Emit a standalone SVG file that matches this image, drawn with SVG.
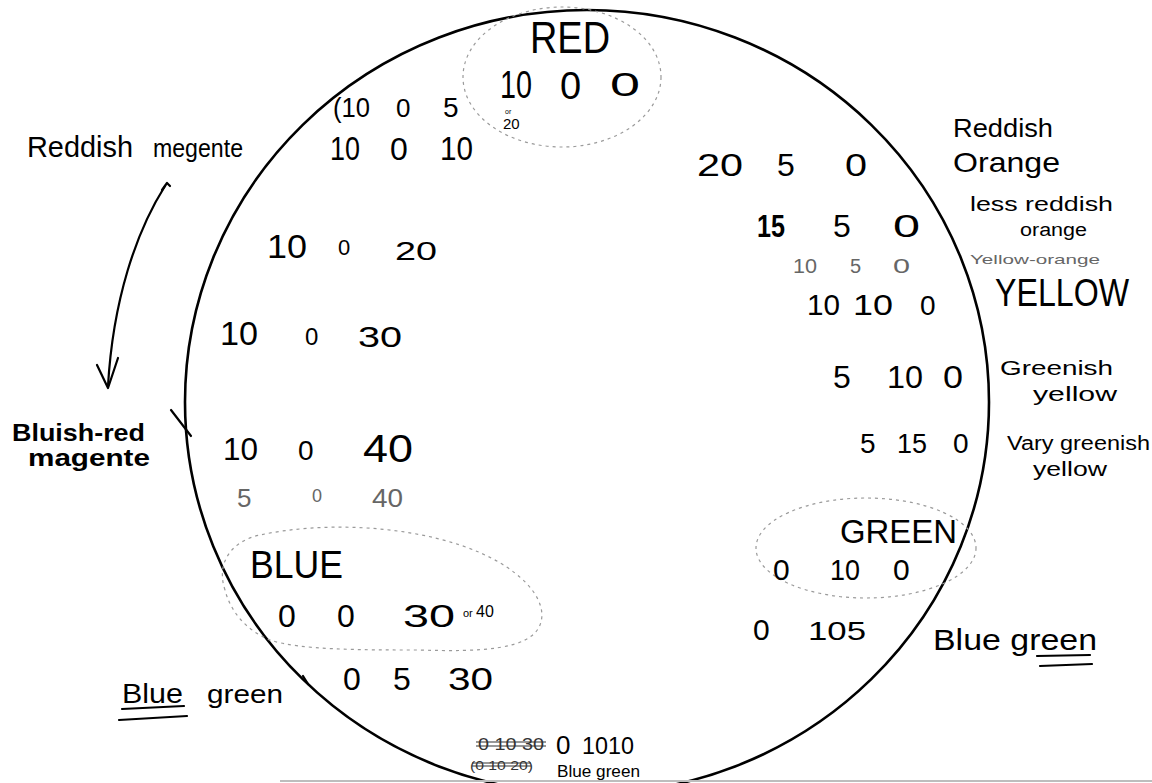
<svg xmlns="http://www.w3.org/2000/svg" width="1152" height="783" viewBox="0 0 1152 783">
<style>
text { font-family: "Liberation Sans", Arial, sans-serif; fill: #000; }
.thin { fill: #666; }
.strike { fill: #333; }
.outline { fill: none; stroke: #9a9a9a; stroke-width: 1.2; stroke-dasharray: 3 4; }
.ink { fill: none; stroke: #000; stroke-width: 2.2; stroke-linecap: round; stroke-linejoin: round; }
</style>
<rect width="1152" height="783" fill="#fff"/>
<g id="wheel">
<ellipse cx="587" cy="402" rx="402" ry="392" fill="none" stroke="#000" stroke-width="2.6"/>
<line x1="280" y1="781" x2="1152" y2="781" stroke="#bdbdbd" stroke-width="2"/>
</g>
<g id="connectors">
<path class="ink" d="M165,186 C136,232 113,300 108,386"/>
<path class="ink" d="M97,365 L108,388 L118,358"/>
<path class="ink" d="M162,190 L167,183 L170,186"/>
<path class="ink" d="M171,410 L191,436"/>
<path class="ink" d="M303,676 L308,684"/>
</g>
<g id="red">
<ellipse class="outline" cx="562" cy="77" rx="99" ry="70"/>
<text x="530" y="53" font-size="44" textLength="80" lengthAdjust="spacingAndGlyphs">RED</text>
<text x="500" y="98" font-size="38" textLength="32" lengthAdjust="spacingAndGlyphs">10</text>
<text x="560" y="99" font-size="38">0</text>
<text x="610" y="96" font-size="34" textLength="30" lengthAdjust="spacingAndGlyphs">0</text>
<text x="505" y="114" font-size="7">or</text>
<text x="503" y="129" font-size="15">20</text>
</g>
<g id="row-10-0-5">
<text x="333" y="117" font-size="28" textLength="37" lengthAdjust="spacingAndGlyphs">(10</text>
<text x="396" y="117" font-size="26">0</text>
<text x="443" y="117" font-size="28">5</text>
</g>
<g id="reddish-magenta">
<text x="27" y="157" font-size="30" textLength="106" lengthAdjust="spacingAndGlyphs">Reddish</text>
<text x="153" y="157" font-size="26" textLength="90" lengthAdjust="spacingAndGlyphs">megente</text>
<text x="330" y="160" font-size="34" textLength="30" lengthAdjust="spacingAndGlyphs">10</text>
<text x="390" y="160" font-size="32">0</text>
<text x="440" y="160" font-size="34" textLength="33" lengthAdjust="spacingAndGlyphs">10</text>
</g>
<g id="row-10-0-20">
<text x="267" y="258" font-size="34" textLength="40" lengthAdjust="spacingAndGlyphs">10</text>
<text x="338" y="255" font-size="22">0</text>
<text x="395" y="260" font-size="26" textLength="42" lengthAdjust="spacingAndGlyphs">20</text>
</g>
<g id="row-10-0-30">
<text x="220" y="345" font-size="34" textLength="38" lengthAdjust="spacingAndGlyphs">10</text>
<text x="305" y="345" font-size="24">0</text>
<text x="358" y="347" font-size="30" textLength="44" lengthAdjust="spacingAndGlyphs">30</text>
</g>
<g id="bluish-red-magenta">
<text x="12" y="441" font-size="24" font-weight="bold" textLength="133" lengthAdjust="spacingAndGlyphs">Bluish-red</text>
<text x="28" y="466" font-size="24" font-weight="bold" textLength="122" lengthAdjust="spacingAndGlyphs">magente</text>
<text x="223" y="460" font-size="32" textLength="35" lengthAdjust="spacingAndGlyphs">10</text>
<text x="298" y="460" font-size="28">0</text>
<text x="363" y="462" font-size="38" textLength="50" lengthAdjust="spacingAndGlyphs">40</text>
<text class="thin" x="237" y="507" font-size="26">5</text>
<text class="thin" x="312" y="502" font-size="18">0</text>
<text class="thin" x="372" y="507" font-size="26" textLength="31" lengthAdjust="spacingAndGlyphs">40</text>
</g>
<g id="blue">
<path class="outline" d="M225,590 C215,560 235,540 260,535 C320,522 400,525 460,545 C520,565 550,600 540,625 C530,650 480,652 420,650 C360,650 300,650 270,640 C245,630 230,610 225,590 Z"/>
<text x="250" y="578" font-size="38" textLength="93" lengthAdjust="spacingAndGlyphs">BLUE</text>
<text x="278" y="627" font-size="32">0</text>
<text x="337" y="627" font-size="32">0</text>
<text x="403" y="627" font-size="32" textLength="52" lengthAdjust="spacingAndGlyphs">30</text>
<text x="463" y="617" font-size="11">or</text>
<text x="476" y="617" font-size="16">40</text>
</g>
<g id="blue-green-left">
<text x="122" y="703" font-size="28" textLength="61" lengthAdjust="spacingAndGlyphs">Blue</text>
<text x="207" y="703" font-size="26" textLength="76" lengthAdjust="spacingAndGlyphs">green</text>
<path class="ink" d="M122,709 L184,706 M119,720 L187,716"/>
<text x="343" y="690" font-size="32">0</text>
<text x="393" y="690" font-size="32">5</text>
<text x="448" y="690" font-size="32" textLength="45" lengthAdjust="spacingAndGlyphs">30</text>
</g>
<g id="blue-green-bottom">
<text class="strike" x="478" y="750" font-size="17" textLength="66" lengthAdjust="spacingAndGlyphs">0 10 30</text>
<path d="M476,742 L546,742 M476,746 L546,746" stroke="#333" stroke-width="1.2" fill="none"/>
<text class="strike" x="470" y="770" font-size="12" textLength="63" lengthAdjust="spacingAndGlyphs">(0 10 20)</text>
<path d="M472,763 L531,763 M472,766 L531,766" stroke="#333" stroke-width="1.2" fill="none"/>
<text x="556" y="754" font-size="26">0</text>
<text x="582" y="754" font-size="24" textLength="52" lengthAdjust="spacingAndGlyphs">1010</text>
<text x="557" y="777" font-size="16" textLength="83" lengthAdjust="spacingAndGlyphs">Blue green</text>
</g>
<g id="reddish-orange">
<text x="953" y="137" font-size="26" textLength="100" lengthAdjust="spacingAndGlyphs">Reddish</text>
<text x="953" y="172" font-size="28" textLength="107" lengthAdjust="spacingAndGlyphs">Orange</text>
<text x="697" y="176" font-size="32" textLength="46" lengthAdjust="spacingAndGlyphs">20</text>
<text x="777" y="176" font-size="32">5</text>
<text x="845" y="176" font-size="32" textLength="22" lengthAdjust="spacingAndGlyphs">0</text>
</g>
<g id="less-reddish-orange">
<text x="970" y="211" font-size="20" textLength="143" lengthAdjust="spacingAndGlyphs">less reddish</text>
<text x="1020" y="236" font-size="18" textLength="67" lengthAdjust="spacingAndGlyphs">orange</text>
<text x="757" y="237" font-size="32" font-weight="bold" textLength="28" lengthAdjust="spacingAndGlyphs">15</text>
<text x="833" y="237" font-size="32">5</text>
<text x="893" y="237" font-size="32" textLength="27" lengthAdjust="spacingAndGlyphs">0</text>
</g>
<g id="yellow-orange">
<text class="thin" x="970" y="264" font-size="13" textLength="130" lengthAdjust="spacingAndGlyphs">Yellow-orange</text>
<text class="thin" x="793" y="273" font-size="20" textLength="24" lengthAdjust="spacingAndGlyphs">10</text>
<text class="thin" x="850" y="273" font-size="20">5</text>
<text class="thin" x="893" y="273" font-size="20" textLength="17" lengthAdjust="spacingAndGlyphs">0</text>
</g>
<g id="yellow">
<text x="995" y="306" font-size="38" textLength="134" lengthAdjust="spacingAndGlyphs">YELLOW</text>
<text x="807" y="315" font-size="30" textLength="33" lengthAdjust="spacingAndGlyphs">10</text>
<text x="853" y="315" font-size="30" textLength="40" lengthAdjust="spacingAndGlyphs">10</text>
<text x="920" y="315" font-size="28">0</text>
</g>
<g id="greenish-yellow">
<text x="1000" y="375" font-size="20" textLength="113" lengthAdjust="spacingAndGlyphs">Greenish</text>
<text x="1033" y="401" font-size="20" textLength="84" lengthAdjust="spacingAndGlyphs">yellow</text>
<text x="833" y="388" font-size="32">5</text>
<text x="887" y="388" font-size="32" textLength="36" lengthAdjust="spacingAndGlyphs">10</text>
<text x="943" y="388" font-size="32" textLength="20" lengthAdjust="spacingAndGlyphs">0</text>
</g>
<g id="very-greenish-yellow">
<text x="1007" y="450" font-size="20" textLength="143" lengthAdjust="spacingAndGlyphs">Vary greenish</text>
<text x="1033" y="476" font-size="20" textLength="74" lengthAdjust="spacingAndGlyphs">yellow</text>
<text x="860" y="453" font-size="28">5</text>
<text x="897" y="453" font-size="28" textLength="30" lengthAdjust="spacingAndGlyphs">15</text>
<text x="953" y="453" font-size="28">0</text>
</g>
<g id="green">
<ellipse class="outline" cx="866" cy="548" rx="110" ry="50"/>
<text x="840" y="543" font-size="34" textLength="117" lengthAdjust="spacingAndGlyphs">GREEN</text>
<text x="773" y="580" font-size="30">0</text>
<text x="830" y="580" font-size="30" textLength="30" lengthAdjust="spacingAndGlyphs">10</text>
<text x="893" y="580" font-size="30">0</text>
</g>
<g id="blue-green-right">
<text x="753" y="640" font-size="30">0</text>
<text x="808" y="640" font-size="26" textLength="58" lengthAdjust="spacingAndGlyphs">105</text>
<text x="933" y="650" font-size="30" textLength="164" lengthAdjust="spacingAndGlyphs">Blue green</text>
<path class="ink" d="M1037,656 L1090,655 M1040,666 L1092,664"/>
</g>
</svg>
